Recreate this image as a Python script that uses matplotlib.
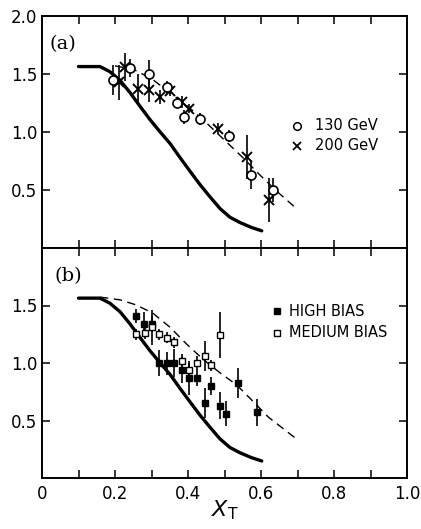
import matplotlib
matplotlib.use("Agg")
import matplotlib.pyplot as plt
import numpy as np

# ---- data ----
# theory curves
solid_x = [0.10, 0.159, 0.186, 0.214, 0.241, 0.268, 0.296, 0.323, 0.351, 0.378,
           0.405, 0.433, 0.460, 0.488, 0.515, 0.542, 0.574, 0.602]
solid_y = [1.564, 1.564, 1.52, 1.445, 1.34, 1.224, 1.106, 1.003, 0.90, 0.78,
           0.664, 0.546, 0.442, 0.339, 0.265, 0.22, 0.177, 0.148]

dash_a_x = [0.20, 0.25, 0.30, 0.35, 0.40, 0.45, 0.50, 0.55, 0.60, 0.65, 0.69]
dash_a_y = [1.57, 1.54, 1.46, 1.34, 1.22, 1.08, 0.93, 0.78, 0.62, 0.47, 0.36]

dash_b_x = [0.159, 0.214, 0.259, 0.305, 0.351, 0.396, 0.442, 0.488, 0.533, 0.579, 0.62, 0.693]
dash_b_y = [1.573, 1.549, 1.504, 1.43, 1.31, 1.165, 1.03, 0.914, 0.81, 0.664, 0.53, 0.35]

# panel (a)
gev130_x = [0.194, 0.241, 0.293, 0.342, 0.370, 0.390, 0.432, 0.513, 0.573, 0.632]
gev130_y = [1.45, 1.55, 1.50, 1.39, 1.25, 1.13, 1.11, 0.965, 0.63, 0.50]
gev130_e = [0.13, 0.08, 0.12, 0.05, 0.04, 0.06, 0.05, 0.05, 0.12, 0.10]

gev200_x = [0.211, 0.228, 0.262, 0.294, 0.323, 0.351, 0.383, 0.404, 0.483, 0.563, 0.623]
gev200_y = [1.43, 1.56, 1.37, 1.36, 1.30, 1.35, 1.26, 1.20, 1.03, 0.785, 0.41]
gev200_e = [0.15, 0.12, 0.13, 0.10, 0.06, 0.04, 0.05, 0.04, 0.05, 0.19, 0.19]

# panel (b)
high_x = [0.258, 0.279, 0.302, 0.321, 0.342, 0.362, 0.384, 0.404, 0.426, 0.463, 0.446, 0.488, 0.504, 0.536, 0.588]
high_y = [1.41, 1.34, 1.34, 1.00, 1.00, 1.00, 0.94, 0.87, 0.87, 0.80, 0.65, 0.63, 0.56, 0.83, 0.57]
high_e = [0.06, 0.10, 0.07, 0.11, 0.10, 0.12, 0.11, 0.15, 0.07, 0.08, 0.13, 0.12, 0.11, 0.13, 0.12]

med_x = [0.258, 0.283, 0.302, 0.321, 0.342, 0.362, 0.384, 0.404, 0.426, 0.447, 0.463, 0.488]
med_y = [1.25, 1.26, 1.31, 1.25, 1.22, 1.18, 1.02, 0.94, 1.00, 1.06, 0.98, 1.24]
med_e = [0.05, 0.05, 0.15, 0.05, 0.05, 0.05, 0.06, 0.06, 0.06, 0.13, 0.05, 0.20]

xticks = [0.0, 0.2, 0.4, 0.6, 0.8, 1.0]
xtick_labels = ["0", "0.2", "0.4", "0.6", "0.8", "1.0"]
yticks_a = [0.5, 1.0, 1.5, 2.0]
yticks_b = [0.5, 1.0, 1.5]

# ---- figure ----
fig = plt.figure(figsize=(4.21, 5.29), dpi=100)
L, R = 42 / 421, 407 / 421
ax_a = fig.add_axes([L, 1 - 248 / 529, R - L, 232 / 529])
ax_b = fig.add_axes([L, 1 - 478 / 529, R - L, 230 / 529])

for ax in (ax_a, ax_b):
    ax.set_xlim(0, 1.0)
    ax.set_ylim(0, 2.0)
    ax.set_xticks(np.arange(0.1, 1.0, 0.1), minor=True)
    ax.set_xticks(xticks)
    ax.tick_params(which="both", direction="in", top=True, right=True,
                   length=6, width=1.1, labelsize=12)
    for s in ax.spines.values():
        s.set_linewidth(1.4)
    ax.plot(solid_x, solid_y, color="black", lw=2.4, solid_capstyle="round",
            solid_joinstyle="round", zorder=2)

# panel a
ax_a.set_yticks(yticks_a)
ax_a.set_yticklabels(["0.5", "1.0", "1.5", "2.0"])
ax_a.tick_params(labelbottom=False)
ax_a.plot(dash_a_x, dash_a_y, color="black", lw=1.0, ls=(0, (6, 4)), zorder=2)
ax_a.errorbar(gev200_x, gev200_y, yerr=gev200_e, fmt="x", color="black",
              ms=6.5, mew=1.4, elinewidth=1.2, capsize=0, zorder=3)
ax_a.errorbar(gev130_x, gev130_y, yerr=gev130_e, fmt="o", color="black",
              mfc="white", ms=6.5, mew=1.2, elinewidth=1.2, capsize=0, zorder=4)
ax_a.text(0.058, 0.879, "(a)", transform=ax_a.transAxes, ha="center", va="center",
          family="DejaVu Serif", fontsize=14)
ax_a.plot([0.699], [0.526], "o", transform=ax_a.transAxes, color="black",
          mfc="white", ms=5.5, mew=1.1)
ax_a.plot([0.699], [0.440], "x", transform=ax_a.transAxes, color="black",
          ms=5.5, mew=1.3)
ax_a.text(0.748, 0.526, "130 GeV", transform=ax_a.transAxes, va="center",
          family="DejaVu Sans", fontsize=10.5)
ax_a.text(0.748, 0.440, "200 GeV", transform=ax_a.transAxes, va="center",
          family="DejaVu Sans", fontsize=10.5)

# panel b
ax_b.set_yticks(yticks_b)
ax_b.set_yticklabels(["0.5", "1.0", "1.5"])
ax_b.set_xticklabels(xtick_labels)
ax_b.tick_params(axis="x", pad=5)
ax_b.plot(dash_b_x, dash_b_y, color="black", lw=1.0, ls=(0, (6, 4)), zorder=2)
ax_b.errorbar(high_x, high_y, yerr=high_e, fmt="s", color="black",
              ms=5, mew=1.0, elinewidth=1.2, capsize=0, zorder=3)
ax_b.errorbar(med_x, med_y, yerr=med_e, fmt="s", color="black", mfc="white",
              ms=5, mew=1.0, elinewidth=1.2, capsize=0, zorder=4)
ax_b.text(0.071, 0.878, "(b)", transform=ax_b.transAxes, ha="center", va="center",
          family="DejaVu Serif", fontsize=14)
ax_b.plot([0.645], [0.726], "s", transform=ax_b.transAxes, color="black", ms=5)
ax_b.plot([0.645], [0.632], "s", transform=ax_b.transAxes, color="black",
          mfc="white", ms=5, mew=1.0)
ax_b.text(0.678, 0.726, "HIGH BIAS", transform=ax_b.transAxes, va="center",
          family="DejaVu Sans", fontsize=10.5)
ax_b.text(0.678, 0.632, "MEDIUM BIAS", transform=ax_b.transAxes, va="center",
          family="DejaVu Sans", fontsize=10.5)
ax_b.set_xlabel(r"$X_{\mathrm{T}}$", fontsize=16, labelpad=-3)

fig.savefig("out.png", dpi=100, facecolor="white")
